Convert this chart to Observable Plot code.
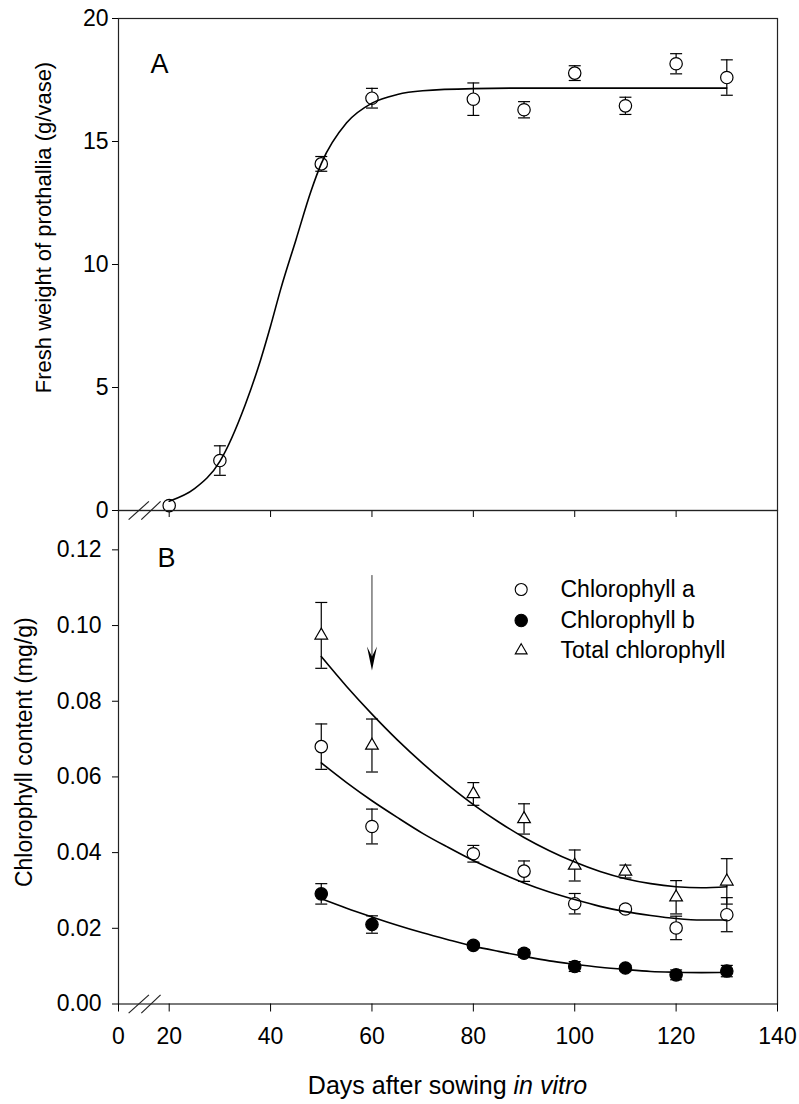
<!DOCTYPE html>
<html><head><meta charset="utf-8">
<script src="https://cdn.jsdelivr.net/npm/d3@7"></script>
<script src="https://cdn.jsdelivr.net/npm/@observablehq/plot@0.6"></script>
<style>
body{margin:0;background:#fff;}
#wrap{position:relative;width:799px;height:1104px;font-family:"Liberation Sans",Arial,sans-serif;color:#000;overflow:hidden;}
#wrap svg{position:absolute;left:0;overflow:visible;background:transparent;}
#xtitle{position:absolute;left:118px;width:659px;text-align:center;top:1073px;font-size:25px;line-height:24px;}
</style></head><body>
<div id="wrap"><div id="xtitle">Days after sowing <i>in vitro</i></div></div>
<script>
// ---- Panel A data: fresh weight of prothallia ----
const daysA = [20, 30, 50, 60, 80, 90, 100, 110, 120, 130];
const freshWeight = [0.2, 2.03, 14.09, 16.76, 16.72, 16.29, 17.78, 16.45, 18.16, 17.6];
const freshWeightSE = [0.1, 0.6, 0.3, 0.4, 0.66, 0.33, 0.3, 0.35, 0.41, 0.72];
const fitDaysA = [20, 25, 30, 35, 38, 40, 42, 45, 48, 50, 55, 60, 65, 70, 80, 90, 100, 110, 120, 130];
const fitFreshWeight = [0.38, 0.89, 2.0, 4.3, 6.1, 7.5, 9.0, 11.0, 13.0, 14.1, 15.76, 16.56, 16.91, 17.06, 17.15, 17.17, 17.17, 17.17, 17.17, 17.17];

// ---- Panel B data: chlorophyll content ----
const daysB = [50, 60, 80, 90, 100, 110, 120, 130];
const chlA = [0.0680, 0.0469, 0.0397, 0.0351, 0.0265, 0.0251, 0.0201, 0.0236];
const chlASE = [0.0060, 0.0046, 0.0022, 0.0027, 0.0027, 0.0008, 0.0031, 0.0045];
const chlB = [0.0291, 0.0210, 0.0155, 0.0134, 0.0099, 0.0095, 0.0077, 0.0087];
const chlBSE = [0.0027, 0.0023, 0.0008, 0.0010, 0.0013, 0.0007, 0.0013, 0.0015];
const chlTotal = [0.0974, 0.0683, 0.0555, 0.0489, 0.0366, 0.0350, 0.0282, 0.0324];
const chlTotalSE = [0.0087, 0.0070, 0.0030, 0.0040, 0.0041, 0.0017, 0.0044, 0.0060];
const fitDaysB = [50, 55, 60, 65, 70, 75, 80, 85, 90, 95, 100, 105, 110, 115, 120, 125, 130];
const fitChlA = [0.0637, 0.0585, 0.0537, 0.0493, 0.0451, 0.0414, 0.0379, 0.0348, 0.0320, 0.0296, 0.0276, 0.0258, 0.0244, 0.0234, 0.0226, 0.0222, 0.0222];
const fitChlB = [0.0278, 0.0253, 0.0230, 0.0208, 0.0188, 0.0170, 0.0153, 0.0139, 0.0126, 0.0114, 0.0105, 0.0097, 0.0091, 0.0086, 0.0084, 0.0083, 0.0084];
const fitChlTotal = [0.0918, 0.0839, 0.0766, 0.0698, 0.0636, 0.0579, 0.0527, 0.0481, 0.0440, 0.0405, 0.0375, 0.0350, 0.0331, 0.0318, 0.0310, 0.0307, 0.0310];
const arrowDay = 60, arrowFrom = 0.1132, arrowTo = 0.0881;

// ---- axes / labels ----
const xTickValues = [10, 20, 40, 60, 80, 100, 120, 140];
const xTickLabels = ["0", "20", "40", "60", "80", "100", "120", "140"];
const yTicksA = [0, 5, 10, 15, 20];
const yTicksB = [0, 0.02, 0.04, 0.06, 0.08, 0.10, 0.12];
const legendLabels = ["Chlorophyll a", "Chlorophyll b", "Total chlorophyll"];
const breakXA = [[12.0, 16.0], [14.5, 18.3]];
const breakXB = [[12.0, 16.0], [14.5, 18.3]];

const font = '"Liberation Sans", Arial, sans-serif';
const capSymbol = {draw(ctx) { ctx.moveTo(-6, 0); ctx.lineTo(6, 0); }};
const arrowHead = {draw(ctx) { ctx.moveTo(0, 0); ctx.lineTo(-5, -24); ctx.lineTo(0, -14); ctx.lineTo(5, -24); ctx.closePath(); }};

const rowsA = daysA.map((d, i) => ({day: d, v: freshWeight[i], se: freshWeightSE[i]}));
const fitA = fitDaysA.map((d, i) => ({day: d, v: fitFreshWeight[i]}));
const mk = (vals, ses) => daysB.map((d, i) => ({day: d, v: vals[i], se: ses[i]}));
const rowsChlA = mk(chlA, chlASE), rowsChlB = mk(chlB, chlBSE), rowsTot = mk(chlTotal, chlTotalSE);
const fitRows = vals => fitDaysB.map((d, i) => ({day: d, v: vals[i]}));

const breakA = breakXA.map(([a, b]) => ({x1: a, x2: b, y1: -0.37, y2: 0.37}));
const breakB = breakXB.map(([a, b]) => ({x1: a, x2: b, y1: -0.0024, y2: 0.0024}));

function errMarks(rows) {
  return [
    Plot.ruleX(rows, {x: "day", y1: d => d.v - d.se, y2: d => d.v + d.se, stroke: "#000", strokeWidth: 1.2}),
    Plot.dot(rows, {x: "day", y: d => d.v - d.se, symbol: capSymbol, fill: "none", stroke: "#000", strokeWidth: 1.2}),
    Plot.dot(rows, {x: "day", y: d => d.v + d.se, symbol: capSymbol, fill: "none", stroke: "#000", strokeWidth: 1.2})
  ];
}

const common = {
  width: 799, marginLeft: 118, marginRight: 22,
  style: {fontFamily: font, background: "transparent", color: "#000", overflow: "visible"},
  x: {domain: [10, 140]}
};

const chartA = Plot.plot({
  ...common, height: 520, marginTop: 18, marginBottom: 10,
  y: {domain: [0, 20]},
  marks: [
    Plot.frame({stroke: "#222", strokeWidth: 1.2}),
    Plot.axisY({ticks: yTicksA, tickSize: 6, tickPadding: 4, fontSize: 23, label: null}),
    Plot.axisX({anchor: "bottom", ticks: xTickValues, tickSize: 7, tickFormat: () => "", label: null}),
    Plot.link(breakA, {x1: "x1", y1: "y1", x2: "x2", y2: "y2", stroke: "#222", strokeWidth: 1.2}),
    ...errMarks(rowsA),
    Plot.dot(rowsA, {x: "day", y: "v", r: 6.2, fill: "white", stroke: "#000", strokeWidth: 1.2}),
    Plot.line(fitA, {x: "day", y: "v", curve: "monotone-x", stroke: "#000", strokeWidth: 1.6}),
    Plot.text(["A"], {text: d => d, frameAnchor: "top-left", dx: 32, dy: 54, textAnchor: "start", lineAnchor: "bottom", fontSize: 27}),
    Plot.text(["Fresh weight of prothallia (g/vase)"], {text: d => d, frameAnchor: "left", textAnchor: "middle", dx: -75, dy: -37, rotate: -90, fontSize: 22})
  ]
});

const legendSymbols = [
  {r: 6, fill: "white", symbol: "circle"},
  {r: 6.2, fill: "black", symbol: "circle"},
  {r: 4.4, fill: "white", symbol: "triangle"}
];
const legendDy = [79, 110, 140];

const chartB = Plot.plot({
  ...common, height: 604, marginTop: 10, marginBottom: 100.5,
  y: {domain: [0, 0.1304]},
  marks: [
    Plot.frame({stroke: "#222", strokeWidth: 1.2}),
    Plot.axisY({ticks: yTicksB, tickFormat: d3.format(".2f"), tickSize: 6, tickPadding: 11, fontSize: 23, label: null}),
    Plot.axisX({anchor: "bottom", ticks: xTickValues, tickFormat: d => xTickLabels[xTickValues.indexOf(d)], tickSize: 8, tickPadding: 16, fontSize: 23, label: null}),
    Plot.link(breakB, {x1: "x1", y1: "y1", x2: "x2", y2: "y2", stroke: "#222", strokeWidth: 1.2}),
    // arrow
    Plot.ruleX([arrowDay], {x: d => d, y1: arrowFrom, y2: arrowTo + 0.002, stroke: "#333", strokeWidth: 1}),
    Plot.dot([arrowDay], {x: d => d, y: arrowTo, symbol: arrowHead, fill: "#000", stroke: "none"}),
    ...errMarks(rowsTot), ...errMarks(rowsChlA), ...errMarks(rowsChlB),
    Plot.dot(rowsTot, {x: "day", y: "v", symbol: "triangle", r: 4.7, fill: "white", stroke: "#000", strokeWidth: 1.2}),
    Plot.dot(rowsChlA, {x: "day", y: "v", r: 6.2, fill: "white", stroke: "#000", strokeWidth: 1.2}),
    Plot.dot(rowsChlB, {x: "day", y: "v", r: 6.2, fill: "black", stroke: "#000", strokeWidth: 1.2}),
    Plot.line(fitRows(fitChlTotal), {x: "day", y: "v", curve: "monotone-x", stroke: "#000", strokeWidth: 1.6}),
    Plot.line(fitRows(fitChlA), {x: "day", y: "v", curve: "monotone-x", stroke: "#000", strokeWidth: 1.6}),
    Plot.line(fitRows(fitChlB), {x: "day", y: "v", curve: "monotone-x", stroke: "#000", strokeWidth: 1.6}),
    Plot.text(["B"], {text: d => d, frameAnchor: "top-left", dx: 39, dy: 56, textAnchor: "start", lineAnchor: "bottom", fontSize: 27}),
    Plot.text(["Chlorophyll content (mg/g)"], {text: d => d, frameAnchor: "left", textAnchor: "middle", dx: -94, dy: -5, rotate: -90, fontSize: 23}),
    ...legendLabels.flatMap((lab, i) => [
      Plot.dot([lab], {frameAnchor: "top-left", dx: 402.7, dy: legendDy[i], r: legendSymbols[i].r, symbol: legendSymbols[i].symbol, fill: legendSymbols[i].fill, stroke: "#000", strokeWidth: 1.1}),
      Plot.text([lab], {text: d => d, frameAnchor: "top-left", dx: 442, dy: legendDy[i], textAnchor: "start", lineAnchor: "middle", fontSize: 23})
    ])
  ]
});

chartA.style.top = "0px";
chartB.style.top = "500px";
const wrap = document.getElementById("wrap");
wrap.appendChild(chartA);
wrap.appendChild(chartB);
</script></body></html>
